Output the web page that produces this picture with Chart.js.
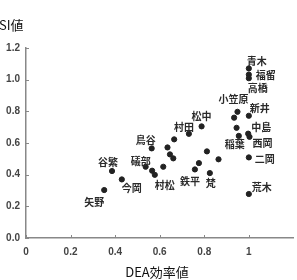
<!DOCTYPE html>
<html lang="ja">
<head>
    <meta charset="UTF-8">
    <title>DEA効率値 と SI値</title>
    <style>
        body { margin: 0; background: #fff; }
        #wrap { width: 297px; height: 280px; }
    </style>
    <script src="https://cdn.jsdelivr.net/npm/chart.js"></script>
</head>
<body>
    <div id="wrap"><canvas id="siChart"></canvas></div>
<script>
    // player names ('' = no label), DEA efficiency and SI value
    const players = ['青木', '福留', '高橋', '小笠原', '', '新井', '松中', '村田', '', '中島',
        '西岡', '稲葉', '', '鳥谷', '', '', '', '', '', '二岡',
        '', '鉄平', '梵', '', '礒部', '', '村松', '谷繁', '今岡', '矢野', '荒木'];
    const deaValues = [1.0, 1.0, 1.0, 0.949, 0.934, 1.0, 0.788, 0.731, 0.945, 0.997,
        1.003, 0.955, 0.665, 0.564, 0.635, 0.646, 0.661, 0.812, 0.864, 1.0,
        0.776, 0.758, 0.825, 0.616, 0.537, 0.566, 0.578, 0.386, 0.430, 0.351, 1.0];
    const siValues = [1.071, 1.032, 1.009, 0.797, 0.760, 0.772, 0.705, 0.658, 0.696, 0.659,
        0.639, 0.645, 0.623, 0.566, 0.572, 0.528, 0.503, 0.547, 0.497, 0.509,
        0.473, 0.433, 0.410, 0.450, 0.450, 0.425, 0.399, 0.423, 0.370, 0.303, 0.278];
    const xTicks = [0, 0.2, 0.4, 0.6, 0.8, 1];
    const yTicks = [0, 0.2, 0.4, 0.6, 0.8, 1.0, 1.2];

    // where each name sits relative to its dot (px)
    const labelOffsets = {
        '青木': [8, -7], '福留': [17, 1], '高橋': [9, 10], '小笠原': [-4, -13], '新井': [11, -8],
        '中島': [13, -6], '西岡': [13, 6], '稲葉': [-4, 8], '二岡': [16, 2], '荒木': [13, -7],
        '梵': [1, 10], '鉄平': [-5, 12], '村松': [10, 10], '松中': [0, -10], '村田': [-5, -7],
        '鳥谷': [-6, -8], '礒部': [-5, -6], '谷繁': [-4, -9], '今岡': [10, 9], '矢野': [-10, 12]
    };

    const points = deaValues.map((x, i) => ({ x: x, y: siValues[i] }));
    const jpFont = '"Noto Sans CJK JP", "Noto Sans", sans-serif';

    // names, titles and the small inward tick marks
    const annotate = {
        id: 'annotate',
        afterDatasetsDraw(chart) {
            const ctx = chart.ctx;
            const meta = chart.getDatasetMeta(0);
            const xs = chart.scales.x, ys = chart.scales.y;
            ctx.save();

            ctx.strokeStyle = '#888';
            ctx.lineWidth = 1;
            xTicks.forEach(v => {
                const px = Math.round(xs.getPixelForValue(v)) + 0.5;
                ctx.beginPath();
                ctx.moveTo(px, ys.bottom);
                ctx.lineTo(px, ys.bottom - 3);
                ctx.stroke();
            });
            yTicks.forEach(v => {
                const py = Math.round(ys.getPixelForValue(v)) + 0.5;
                ctx.beginPath();
                ctx.moveTo(xs.left, py);
                ctx.lineTo(xs.left + 3, py);
                ctx.stroke();
            });

            ctx.fillStyle = '#2a2a2a';
            ctx.textAlign = 'center';
            ctx.textBaseline = 'middle';
            ctx.font = 'bold 10px ' + jpFont;
            meta.data.forEach((el, i) => {
                const name = players[i];
                if (!name) return;
                const off = labelOffsets[name] || [0, -9];
                ctx.fillText(name, el.x + off[0], el.y + off[1]);
            });

            ctx.fillStyle = '#111';
            ctx.font = '13px ' + jpFont;
            ctx.textAlign = 'left';
            ctx.fillText('SI値', -1, 25);
            ctx.font = '13px ' + jpFont;
            ctx.textAlign = 'center';
            ctx.fillText('DEA効率値', 157, 272);
            ctx.restore();
        }
    };

    const tickFont = { family: '"Liberation Sans", Arial, sans-serif', size: 10, weight: 'bold' };

    new Chart(document.getElementById('siChart'), {
        type: 'scatter',
        data: {
            datasets: [{
                data: points,
                backgroundColor: '#222',
                borderColor: '#222',
                pointRadius: 2.6,
                pointHoverRadius: 2.6
            }]
        },
        options: {
            responsive: true,
            maintainAspectRatio: false,
            animation: false,
            layout: { padding: { top: 48, right: 3, left: 0, bottom: 0 } },
            plugins: { legend: { display: false }, tooltip: { enabled: false } },
            scales: {
                x: {
                    type: 'linear',
                    min: 0,
                    max: 1.2,
                    afterFit(scale) { scale.height = 42; },
                    afterBuildTicks(scale) { scale.ticks = xTicks.map(v => ({ value: v })); },
                    grid: { display: false, drawTicks: false },
                    border: { color: '#888', width: 1.5 },
                    ticks: {
                        color: '#444',
                        font: tickFont,
                        padding: 8,
                        callback: v => String(v)
                    }
                },
                y: {
                    type: 'linear',
                    min: 0,
                    max: 1.2,
                    afterFit(scale) { scale.width = 26; },
                    afterBuildTicks(scale) { scale.ticks = yTicks.map(v => ({ value: v })); },
                    grid: { display: false, drawTicks: false },
                    border: { color: '#888', width: 1.5 },
                    ticks: {
                        color: '#444',
                        font: tickFont,
                        padding: 6,
                        callback: v => v.toFixed(1)
                    }
                }
            }
        },
        plugins: [annotate]
    });
</script>
</body>
</html>
